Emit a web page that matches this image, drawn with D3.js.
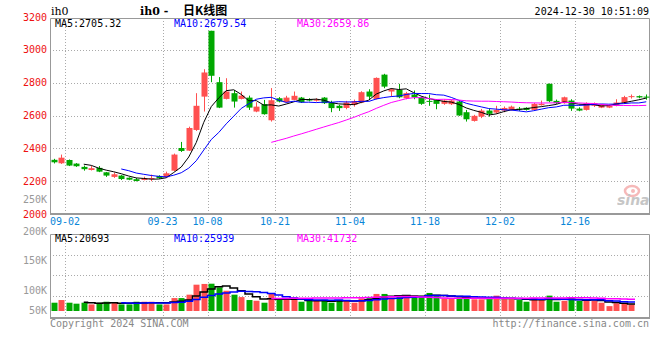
<!DOCTYPE html>
<html>
<head>
<meta charset="utf-8">
<script src="https://cdn.jsdelivr.net/npm/d3@7"></script>
<style>
  body { margin: 0; background: #fff; }
  svg text { font-family: "DejaVu Sans Mono", monospace; font-size: 10px; }
</style>
</head>
<body>
<svg id="chart" width="660" height="360"></svg>
<script>
// trading days shown on the chart
const dates = [
  "08-29","08-30",
  "09-02","09-03","09-04","09-05","09-06","09-09","09-10","09-11","09-12","09-13",
  "09-18","09-19","09-20","09-23","09-24","09-25","09-26","09-27","09-30",
  "10-08","10-09","10-10","10-11","10-14","10-15","10-16","10-17","10-18",
  "10-21","10-22","10-23","10-24","10-25","10-28","10-29","10-30","10-31","11-01",
  "11-04","11-05","11-06","11-07","11-08","11-11","11-12","11-13","11-14","11-15",
  "11-18","11-19","11-20","11-21","11-22","11-25","11-26","11-27","11-28","11-29",
  "12-02","12-03","12-04","12-05","12-06","12-09","12-10","12-11","12-12","12-13",
  "12-16","12-17","12-18","12-19","12-20","12-23","12-24","12-25","12-26","12-27"
];
const opens = [
  2330,2309,2329,2307,2287,2268,2281,2254,2226,2234,2221,2212,2207,2216,2232,2224,2264,2402,2386,2512,2715,
  3116,2803,2701,2736,2701,2709,2624,2669,2571,
  2705,2681,2695,2709,2700,2690,2709,2679,2659,2646,
  2665,2679,2746,2701,2849,2746,2756,2705,2728,2711,
  2689,2695,2671,2669,2685,2620,2567,2593,2630,2618,
  2630,2634,2642,2647,2634,2663,2793,2689,2675,2691,
  2642,2634,2659,2648,2648,2659,2679,2714,2718,2715
];
const highs = [
  2336,2362,2332,2310,2295,2292,2292,2256,2252,2237,2223,2220,2227,2240,2236,2258,2368,2439,2532,2736,2882,
  3116,2834,2827,2754,2746,2721,2681,2695,2767,
  2712,2720,2746,2713,2705,2705,2712,2690,2665,2689,
  2697,2748,2760,2832,2854,2766,2793,2744,2752,2715,
  2727,2698,2697,2697,2690,2634,2604,2640,2640,2659,
  2655,2660,2652,2650,2676,2691,2795,2697,2715,2699,
  2650,2680,2679,2668,2663,2699,2720,2728,2722,2728
];
const lows = [
  2308,2305,2292,2287,2264,2265,2255,2226,2220,2207,2206,2199,2205,2200,2215,2222,2262,2378,2384,2506,2624,
  2803,2645,2698,2648,2698,2634,2620,2605,2563,
  2680,2678,2692,2676,2686,2685,2670,2620,2628,2638,
  2654,2675,2695,2698,2766,2715,2705,2699,2699,2665,
  2659,2638,2665,2664,2598,2563,2563,2584,2593,2610,
  2620,2630,2628,2630,2632,2660,2681,2670,2672,2628,
  2626,2630,2652,2645,2645,2656,2673,2703,2705,2696
];
const closes = [
  2315,2343,2295,2291,2273,2279,2258,2234,2242,2213,2209,2201,2218,2219,2218,2248,2362,2384,2524,2659,2862,
  2842,2648,2746,2685,2721,2648,2654,2608,2693,
  2685,2709,2720,2681,2691,2698,2675,2645,2645,2679,
  2687,2742,2715,2829,2776,2760,2711,2736,2711,2671,
  2685,2671,2691,2691,2600,2577,2598,2630,2610,2634,
  2646,2654,2639,2634,2671,2671,2687,2675,2711,2642,
  2630,2675,2675,2665,2659,2679,2712,2718,2710,2712
];
const volumes = [
  34000,45000,34000,30000,34000,27000,34000,38000,34000,27000,27000,38000,38000,38000,27000,27000,
  53000,53000,67000,108000,111000,112000,97000,83000,67000,57000,45000,42000,34000,71000,
  48000,45000,45000,38000,41000,41000,46000,34000,
  45000,45000,34000,52000,57000,70000,70000,56000,62000,59000,
  62000,62000,74000,66000,52000,52000,56000,56000,48000,48000,
  48000,63000,48000,48000,45000,38000,53000,45000,63000,38000,
  42000,52000,42000,48000,41000,34000,20000,32000,32000,27000
];
const priceTicks = [3200, 3000, 2800, 2600, 2400, 2200, 2000];
const volTicks = [250000, 200000, 150000, 100000, 50000];
const volTickText = ["250K", "200K", "150K", "100K", "50K"];
const tickDates = ["09-02","09-23","10-08","10-21","11-04","11-18","12-02","12-16"];
const maLabels = ["MA5:2705.32", "MA10:2679.54", "MA30:2659.86"];
const volMaLabels = ["MA5:20693", "MA10:25939", "MA30:41732"];
const maColors = ["#000000", "#0000ff", "#ff00ff"];

const UP = "#ff5050", DOWN = "#00a800", GRID = "#aaaaaa", FRAME = "#999999";

const svg = d3.select("#chart");

const left = 50, right = 650;
const pTop = 18, pBottom = 214;
const vTop = 234, vBottom = 318;

const x = d3.scaleBand().domain(dates).range([left, right]).paddingInner(0.18).paddingOuter(0.09);
const step = x.step();
const cx = (d) => x(d) + x.bandwidth() / 2;
const tickX = (d) => x(d) - step * 0.18 / 2;

const y = d3.scaleLinear().domain([2000, 3200]).range([pBottom, 17]);
const yv = d3.scaleLinear().domain([0, 320000]).range([311, 233]);
// sina draws the volume labels at uneven spots
const yvLabel = d3.scaleLinear().domain([50000, 100000, 150000, 200000, 250000]).range([310, 290, 260, 231, 199]);

const rows = dates.map((d, i) => ({
  date: d, open: opens[i], high: highs[i], low: lows[i], close: closes[i], vol: volumes[i]
}));

function movingAvg(arr, n) {
  return arr.map((v, i) => (i < n - 1 ? null : d3.mean(arr.slice(i - n + 1, i + 1))));
}

// grid, price panel
svg.append("g")
  .selectAll("line")
  .data(priceTicks.filter((t) => t > 2000 && t < 3200))
  .join("line")
  .attr("x1", left).attr("x2", right)
  .attr("y1", (d) => Math.round(y(d)) + 0.5).attr("y2", (d) => Math.round(y(d)) + 0.5)
  .attr("stroke", GRID).attr("stroke-dasharray", "1,2");

[[pTop, pBottom], [vTop, vBottom]].forEach(([t, b]) => {
  svg.append("g")
    .selectAll("line")
    .data(tickDates)
    .join("line")
    .attr("x1", (d) => Math.round(tickX(d)) + 0.5).attr("x2", (d) => Math.round(tickX(d)) + 0.5)
    .attr("y1", t).attr("y2", b)
    .attr("stroke", GRID).attr("stroke-dasharray", "1,2");
});

// grid, volume panel
svg.append("g")
  .selectAll("line")
  .data([1, 2, 3])
  .join("line")
  .attr("x1", left).attr("x2", right)
  .attr("y1", (k) => Math.round(vTop + k * 20.5) + 0.5).attr("y2", (k) => Math.round(vTop + k * 20.5) + 0.5)
  .attr("stroke", GRID).attr("stroke-dasharray", "1,2");

// frames
function frame(t, b) {
  svg.append("path")
    .attr("d", `M${left + 0.5},${b} V${t + 0.5} H${right - 0.5} V${b}`)
    .attr("fill", "none").attr("stroke", FRAME);
  svg.append("line")
    .attr("x1", left).attr("x2", right).attr("y1", b).attr("y2", b)
    .attr("stroke", FRAME).attr("stroke-width", 2);
}
frame(pTop, pBottom);
frame(vTop, vBottom);

// sina watermark
const logo = svg.append("g").attr("opacity", 0.55);
logo.append("ellipse").attr("cx", 632).attr("cy", 191).attr("rx", 7).attr("ry", 5)
  .attr("fill", "none").attr("stroke", "#f08080").attr("stroke-width", 2.5);
logo.append("circle").attr("cx", 633).attr("cy", 191).attr("r", 2).attr("fill", "#f08080");
logo.append("text").attr("x", 617).attr("y", 205)
  .style("font-family", "'DejaVu Sans', sans-serif").style("font-size", "14px")
  .style("font-weight", "bold").style("font-style", "italic")
  .attr("fill", "#999").text("sina");

// candles
const candle = svg.append("g").selectAll("g").data(rows).join("g");
candle.append("line")
  .attr("x1", (d) => Math.round(cx(d.date)) + 0.5).attr("x2", (d) => Math.round(cx(d.date)) + 0.5)
  .attr("y1", (d) => y(d.high)).attr("y2", (d) => y(d.low))
  .attr("stroke", (d) => (d.close >= d.open ? UP : DOWN));
candle.append("rect")
  .attr("x", (d) => Math.round(cx(d.date)) - 2.5)
  .attr("width", 6)
  .attr("y", (d) => y(Math.max(d.open, d.close)))
  .attr("height", (d) => Math.max(1, Math.abs(y(d.open) - y(d.close))))
  .attr("fill", (d) => (d.close >= d.open ? UP : DOWN));

// price moving averages
[5, 10, 30].forEach((n, k) => {
  const ma = movingAvg(closes, n);
  svg.append("path")
    .datum(rows.map((d, i) => ({ date: d.date, v: ma[i] })).filter((d) => d.v !== null))
    .attr("fill", "none").attr("stroke", maColors[k]).attr("stroke-width", 1)
    .attr("d", d3.line().x((d) => cx(d.date)).y((d) => y(d.v)));
});

// volume bars
svg.append("g").selectAll("rect").data(rows).join("rect")
  .attr("x", (d) => Math.round(cx(d.date)) - 2.5)
  .attr("width", 6)
  .attr("y", (d) => yv(d.vol))
  .attr("height", (d) => yv(0) - yv(d.vol))
  .attr("fill", (d) => (d.close >= d.open ? UP : DOWN));

[5, 10, 30].forEach((n, k) => {
  const ma = movingAvg(volumes, n);
  svg.append("path")
    .datum(rows.map((d, i) => ({ date: d.date, v: ma[i] })).filter((d) => d.v !== null))
    .attr("fill", "none").attr("stroke", maColors[k]).attr("stroke-width", 1.5)
    .attr("d", d3.line().curve(d3.curveStep).x((d) => cx(d.date)).y((d) => yv(d.v)));
});

// axis labels
svg.append("g").selectAll("text").data(priceTicks).join("text")
  .attr("x", 47).attr("y", (d) => y(d) + 3.5)
  .attr("text-anchor", "end").attr("fill", "#ee1111").text((d) => d);

svg.append("g").selectAll("text").data(volTicks).join("text")
  .attr("x", 47).attr("y", (d) => yvLabel(d) + 3.5)
  .attr("text-anchor", "end").attr("fill", "#999").text((d, i) => volTickText[i]);

svg.append("g").selectAll("text").data(tickDates).join("text")
  .attr("x", (d) => tickX(d)).attr("y", 225)
  .attr("text-anchor", "middle").attr("fill", "#0a86d8")
  .text((d) => d);

// header
svg.append("text").attr("x", 51).attr("y", 15)
  .style("font-family", "'DejaVu Serif', serif").style("font-size", "11px").text("ih0");
svg.append("text").attr("x", 140).attr("y", 15)
  .style("font-family", "'DejaVu Serif', serif").style("font-size", "11px").style("font-weight", "bold").text("ih0 -");
svg.append("text").attr("x", 183).attr("y", 15)
  .style("font-family", "'Noto Sans CJK SC', sans-serif").style("font-size", "12px")
  .style("font-weight", "bold").text("日K线图");
svg.append("text").attr("x", 649).attr("y", 15).attr("text-anchor", "end").text("2024-12-30 10:51:09");

const maX = [55, 174, 297];
svg.append("g").selectAll("text").data(maLabels).join("text")
  .attr("x", (d, i) => maX[i]).attr("y", 27).attr("fill", (d, i) => maColors[i]).text((d) => d);
svg.append("g").selectAll("text").data(volMaLabels).join("text")
  .attr("x", (d, i) => maX[i]).attr("y", 242).attr("fill", (d, i) => maColors[i]).text((d) => d);

svg.append("text").attr("x", 50).attr("y", 327).attr("fill", "#888").text("Copyright 2024 SINA.COM");
svg.append("text").attr("x", 649).attr("y", 327).attr("text-anchor", "end").attr("fill", "#888")
  .text("http://finance.sina.com.cn");
</script>
</body>
</html>
